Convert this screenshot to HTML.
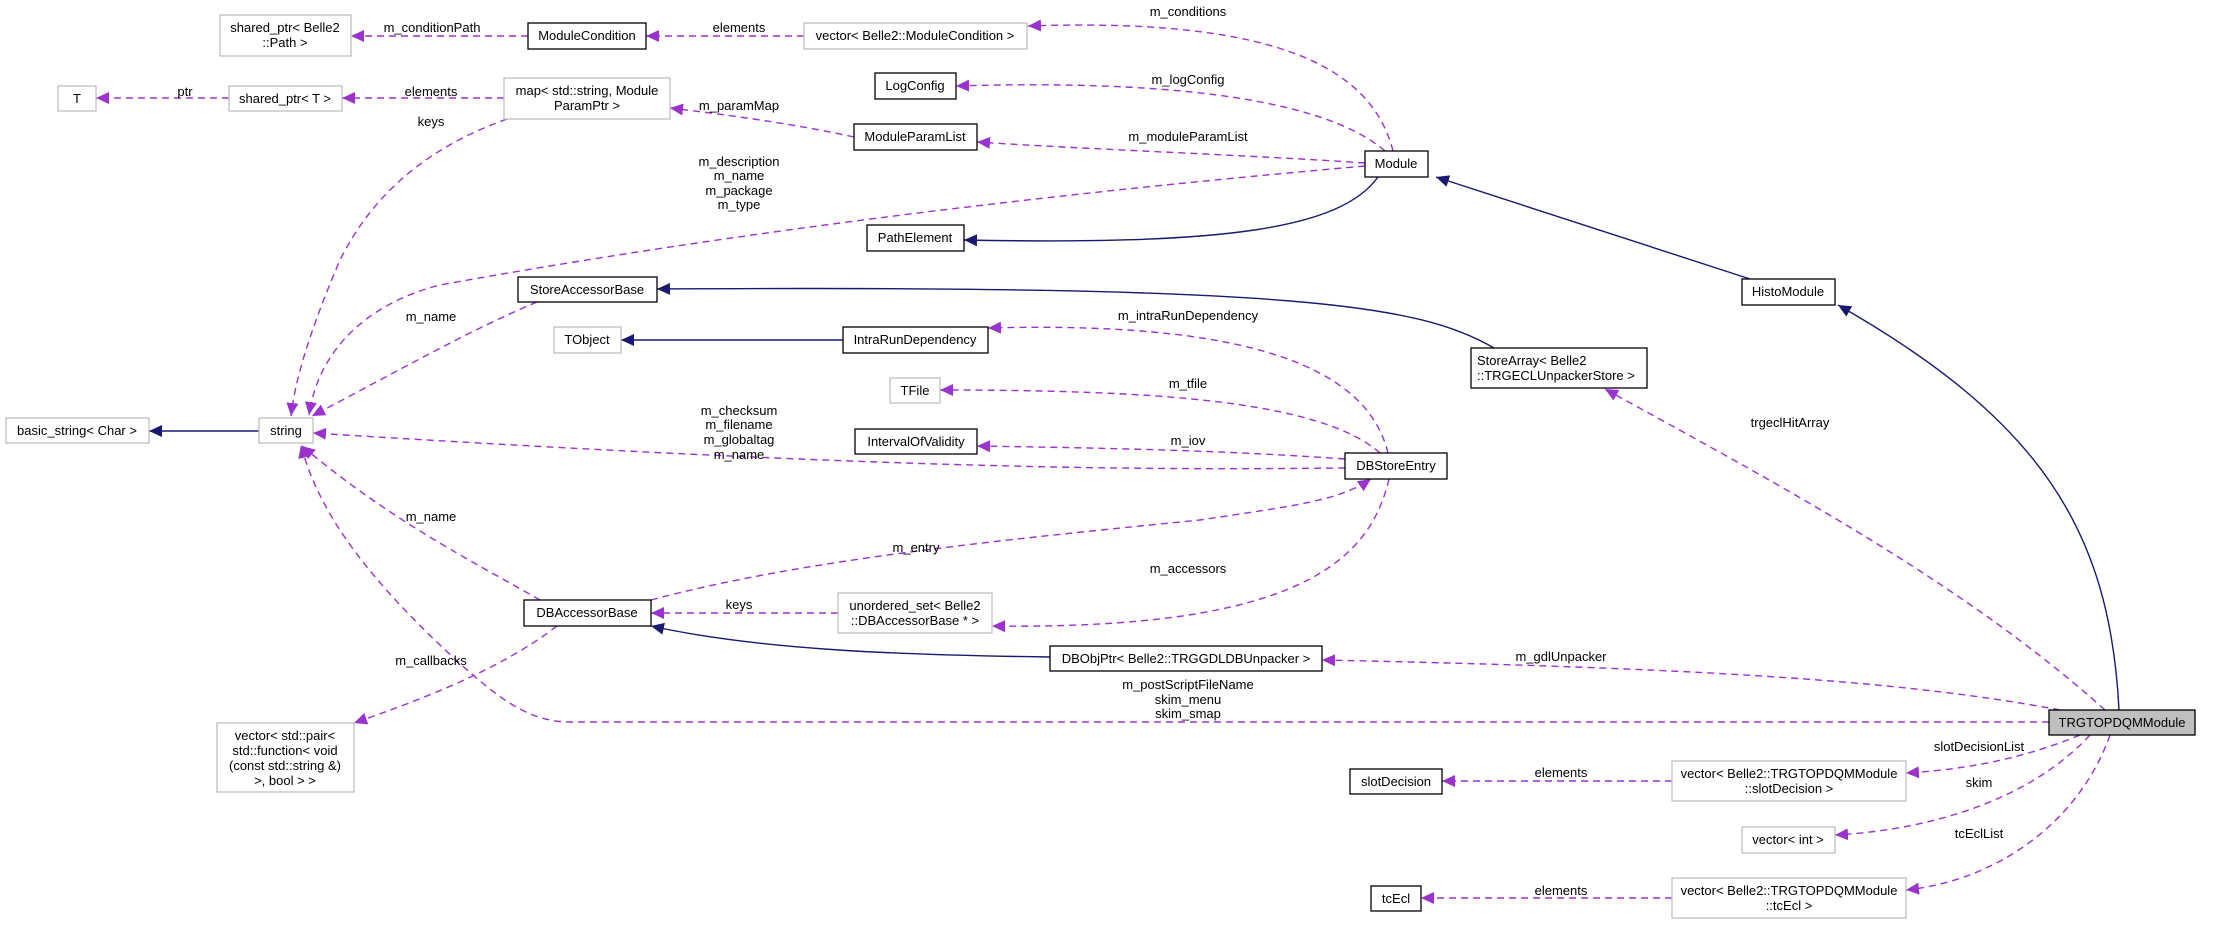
<!DOCTYPE html>
<html><head><meta charset="utf-8"><style>
html,body{margin:0;padding:0;background:#fff;}
svg{display:block;}
text{font-family:"Liberation Sans",Arial,sans-serif;font-size:13px;fill:#000;}
.n{fill:#fff;stroke:#000;stroke-width:1.3;}
.g{fill:#fff;stroke:#bfbfbf;stroke-width:1.3;}
.d{fill:none;stroke:#9a32cd;stroke-width:1.4;stroke-dasharray:7,5;}
.s{fill:none;stroke:#191970;stroke-width:1.4;}
</style></head><body>
<svg width="2219" height="925" viewBox="0 0 2219 925" xmlns="http://www.w3.org/2000/svg">
<defs>
<marker id="ap" markerUnits="userSpaceOnUse" markerWidth="14" markerHeight="12" refX="13" refY="6" orient="auto"><path d="M0,0 L13,6 L0,12 z" fill="#9a32cd"/></marker>
<marker id="as" markerUnits="userSpaceOnUse" markerWidth="14" markerHeight="12" refX="13" refY="6" orient="auto"><path d="M0,0 L13,6 L0,12 z" fill="#191970"/></marker>
</defs>

<!-- edges -->
<g>
<path class="d" marker-end="url(#ap)" d="M1393,151 C1370,60 1260,18 1028,26"/>
<path class="d" marker-end="url(#ap)" d="M804,36 L646,36"/>
<path class="d" marker-end="url(#ap)" d="M528,36 L351,36"/>
<path class="d" marker-end="url(#ap)" d="M1385,151 C1320,95 1150,80 956,86"/>
<path class="d" marker-end="url(#ap)" d="M1365,163 C1250,155 1100,150 977,142"/>
<path class="d" marker-end="url(#ap)" d="M1365,166 C1150,185 800,220 440,285 C380,300 320,340 309,415"/>
<path class="d" marker-end="url(#ap)" d="M854,137 C800,125 730,115 670,108"/>
<path class="d" marker-end="url(#ap)" d="M504,98 L342,98"/>
<path class="d" marker-end="url(#ap)" d="M229,98 L96,98"/>
<path class="d" marker-end="url(#ap)" d="M507,119 C420,150 370,200 340,260 C310,330 295,380 291,416"/>
<path class="s" marker-end="url(#as)" d="M1378,177 C1340,230 1220,245 964,240"/>
<path class="s" marker-end="url(#as)" d="M1750,279 L1436,177"/>
<path class="s" marker-end="url(#as)" d="M2119,710 C2110,530 2040,420 1838,305"/>
<path class="s" marker-end="url(#as)" d="M1494,348 C1420,305 1300,285 657,289"/>
<path class="d" marker-end="url(#ap)" d="M537,302 C470,330 400,370 312,416"/>
<path class="s" marker-end="url(#as)" d="M843,340 L621,340"/>
<path class="d" marker-end="url(#ap)" d="M1388,453 C1370,380 1280,320 988,328"/>
<path class="d" marker-end="url(#ap)" d="M1380,453 C1320,400 1150,390 940,390"/>
<path class="d" marker-end="url(#ap)" d="M1345,459 C1220,450 1100,448 977,446"/>
<path class="d" marker-end="url(#ap)" d="M1345,468 C1150,470 900,470 313,433"/>
<path class="s" marker-end="url(#as)" d="M259,431 L149,431"/>
<path class="d" marker-end="url(#ap)" d="M540,600 C470,560 390,520 302,446"/>
<path class="d" marker-end="url(#ap)" d="M651,600 C800,560 1000,540 1200,520 C1300,505 1340,500 1371,479"/>
<path class="d" marker-end="url(#ap)" d="M838,613 L651,613"/>
<path class="d" marker-end="url(#ap)" d="M1389,479 C1370,560 1300,630 992,626"/>
<path class="s" marker-end="url(#as)" d="M1050,657 C900,655 760,650 651,626"/>
<path class="d" marker-end="url(#ap)" d="M557,626 C500,670 420,700 354,723"/>
<path class="d" marker-end="url(#ap)" d="M2049,722 L570,722 C530,722 500,700 456,660 C380,590 320,520 301,445"/>
<path class="d" marker-end="url(#ap)" d="M2060,710 C1900,680 1700,668 1322,660"/>
<path class="d" marker-end="url(#ap)" d="M2105,710 C1960,580 1770,480 1605,389"/>
<path class="d" marker-end="url(#ap)" d="M2080,735 C2020,760 1960,770 1906,773"/>
<path class="d" marker-end="url(#ap)" d="M1672,781 L1442,781"/>
<path class="d" marker-end="url(#ap)" d="M2090,735 C2030,800 1930,830 1835,835"/>
<path class="d" marker-end="url(#ap)" d="M2110,735 C2080,820 2000,880 1906,890"/>
<path class="d" marker-end="url(#ap)" d="M1672,898 L1421,898"/>
</g>

<!-- edge labels -->
<g text-anchor="middle">
<text x="432" y="32">m_conditionPath</text>
<text x="739" y="32">elements</text>
<text x="185" y="96">ptr</text>
<text x="431" y="96">elements</text>
<text x="431" y="126">keys</text>
<text x="739" y="110">m_paramMap</text>
<text x="739" y="166">m_description</text>
<text x="739" y="180">m_name</text>
<text x="739" y="195">m_package</text>
<text x="739" y="209">m_type</text>
<text x="431" y="321">m_name</text>
<text x="739" y="415">m_checksum</text>
<text x="739" y="429">m_filename</text>
<text x="739" y="444">m_globaltag</text>
<text x="739" y="459">m_name</text>
<text x="1188" y="16">m_conditions</text>
<text x="1188" y="84">m_logConfig</text>
<text x="1188" y="141">m_moduleParamList</text>
<text x="1188" y="320">m_intraRunDependency</text>
<text x="1188" y="388">m_tfile</text>
<text x="1188" y="445">m_iov</text>
<text x="1790" y="427">trgeclHitArray</text>
<text x="431" y="521">m_name</text>
<text x="916" y="552">m_entry</text>
<text x="739" y="609">keys</text>
<text x="431" y="665">m_callbacks</text>
<text x="1188" y="573">m_accessors</text>
<text x="1561" y="661">m_gdlUnpacker</text>
<text x="1188" y="689">m_postScriptFileName</text>
<text x="1188" y="704">skim_menu</text>
<text x="1188" y="718">skim_smap</text>
<text x="1979" y="751">slotDecisionList</text>
<text x="1979" y="787">skim</text>
<text x="1979" y="838">tcEclList</text>
<text x="1561" y="777">elements</text>
<text x="1561" y="895">elements</text>
</g>

<!-- nodes -->
<g text-anchor="middle">
<rect class="g" x="220" y="15" width="131" height="41"/><text x="285" y="32">shared_ptr&lt; Belle2</text><text x="285" y="47">::Path &gt;</text>
<rect class="n" x="528" y="23" width="118" height="26"/><text x="587" y="40">ModuleCondition</text>
<rect class="g" x="804" y="23" width="223" height="26"/><text x="915" y="40">vector&lt; Belle2::ModuleCondition &gt;</text>
<rect class="g" x="58" y="86" width="38" height="25"/><text x="77" y="103">T</text>
<rect class="g" x="229" y="86" width="113" height="25"/><text x="285" y="103">shared_ptr&lt; T &gt;</text>
<rect class="g" x="504" y="78" width="166" height="41"/><text x="587" y="95">map&lt; std::string, Module</text><text x="587" y="110">ParamPtr &gt;</text>
<rect class="n" x="875" y="73" width="81" height="26"/><text x="915" y="90">LogConfig</text>
<rect class="n" x="854" y="124" width="123" height="26"/><text x="915" y="141">ModuleParamList</text>
<rect class="n" x="867" y="225" width="97" height="26"/><text x="915" y="242">PathElement</text>
<rect class="n" x="518" y="277" width="139" height="25"/><text x="587" y="294">StoreAccessorBase</text>
<rect class="g" x="554" y="327" width="67" height="26"/><text x="587" y="344">TObject</text>
<rect class="n" x="843" y="327" width="145" height="26"/><text x="915" y="344">IntraRunDependency</text>
<rect class="g" x="890" y="378" width="50" height="25"/><text x="915" y="395">TFile</text>
<rect class="n" x="855" y="429" width="122" height="25"/><text x="916" y="446">IntervalOfValidity</text>
<rect class="g" x="6" y="418" width="143" height="25"/><text x="77" y="435">basic_string&lt; Char &gt;</text>
<rect class="g" x="259" y="418" width="54" height="25"/><text x="286" y="435">string</text>
<rect class="n" x="1365" y="151" width="63" height="26"/><text x="1396" y="168">Module</text>
<rect class="n" x="1742" y="279" width="93" height="26"/><text x="1788" y="296">HistoModule</text>
<rect class="n" x="1471" y="348" width="176" height="40"/><text x="1477" y="365" text-anchor="start">StoreArray&lt; Belle2</text><text x="1477" y="380" text-anchor="start">::TRGECLUnpackerStore &gt;</text>
<rect class="n" x="1345" y="453" width="102" height="26"/><text x="1396" y="470">DBStoreEntry</text>
<rect class="n" x="524" y="600" width="127" height="26"/><text x="587" y="617">DBAccessorBase</text>
<rect class="g" x="838" y="593" width="154" height="40"/><text x="915" y="610">unordered_set&lt; Belle2</text><text x="915" y="625">::DBAccessorBase * &gt;</text>
<rect class="g" x="217" y="723" width="137" height="69"/><text x="285" y="740">vector&lt; std::pair&lt;</text><text x="285" y="755">std::function&lt; void</text><text x="285" y="770">(const std::string &amp;)</text><text x="285" y="785">&gt;, bool &gt; &gt;</text>
<rect class="n" x="1050" y="646" width="272" height="25"/><text x="1186" y="663">DBObjPtr&lt; Belle2::TRGGDLDBUnpacker &gt;</text>
<rect x="2049" y="710" width="146" height="25" fill="#bfbfbf" stroke="#000" stroke-width="1.3"/><text x="2122" y="727">TRGTOPDQMModule</text>
<rect class="n" x="1350" y="769" width="92" height="25"/><text x="1396" y="786">slotDecision</text>
<rect class="g" x="1672" y="761" width="234" height="40"/><text x="1789" y="778">vector&lt; Belle2::TRGTOPDQMModule</text><text x="1789" y="793">::slotDecision &gt;</text>
<rect class="g" x="1742" y="827" width="93" height="26"/><text x="1788" y="844">vector&lt; int &gt;</text>
<rect class="n" x="1371" y="886" width="50" height="25"/><text x="1396" y="903">tcEcl</text>
<rect class="g" x="1672" y="878" width="234" height="40"/><text x="1789" y="895">vector&lt; Belle2::TRGTOPDQMModule</text><text x="1789" y="910">::tcEcl &gt;</text>
</g>
</svg>
</body></html>
